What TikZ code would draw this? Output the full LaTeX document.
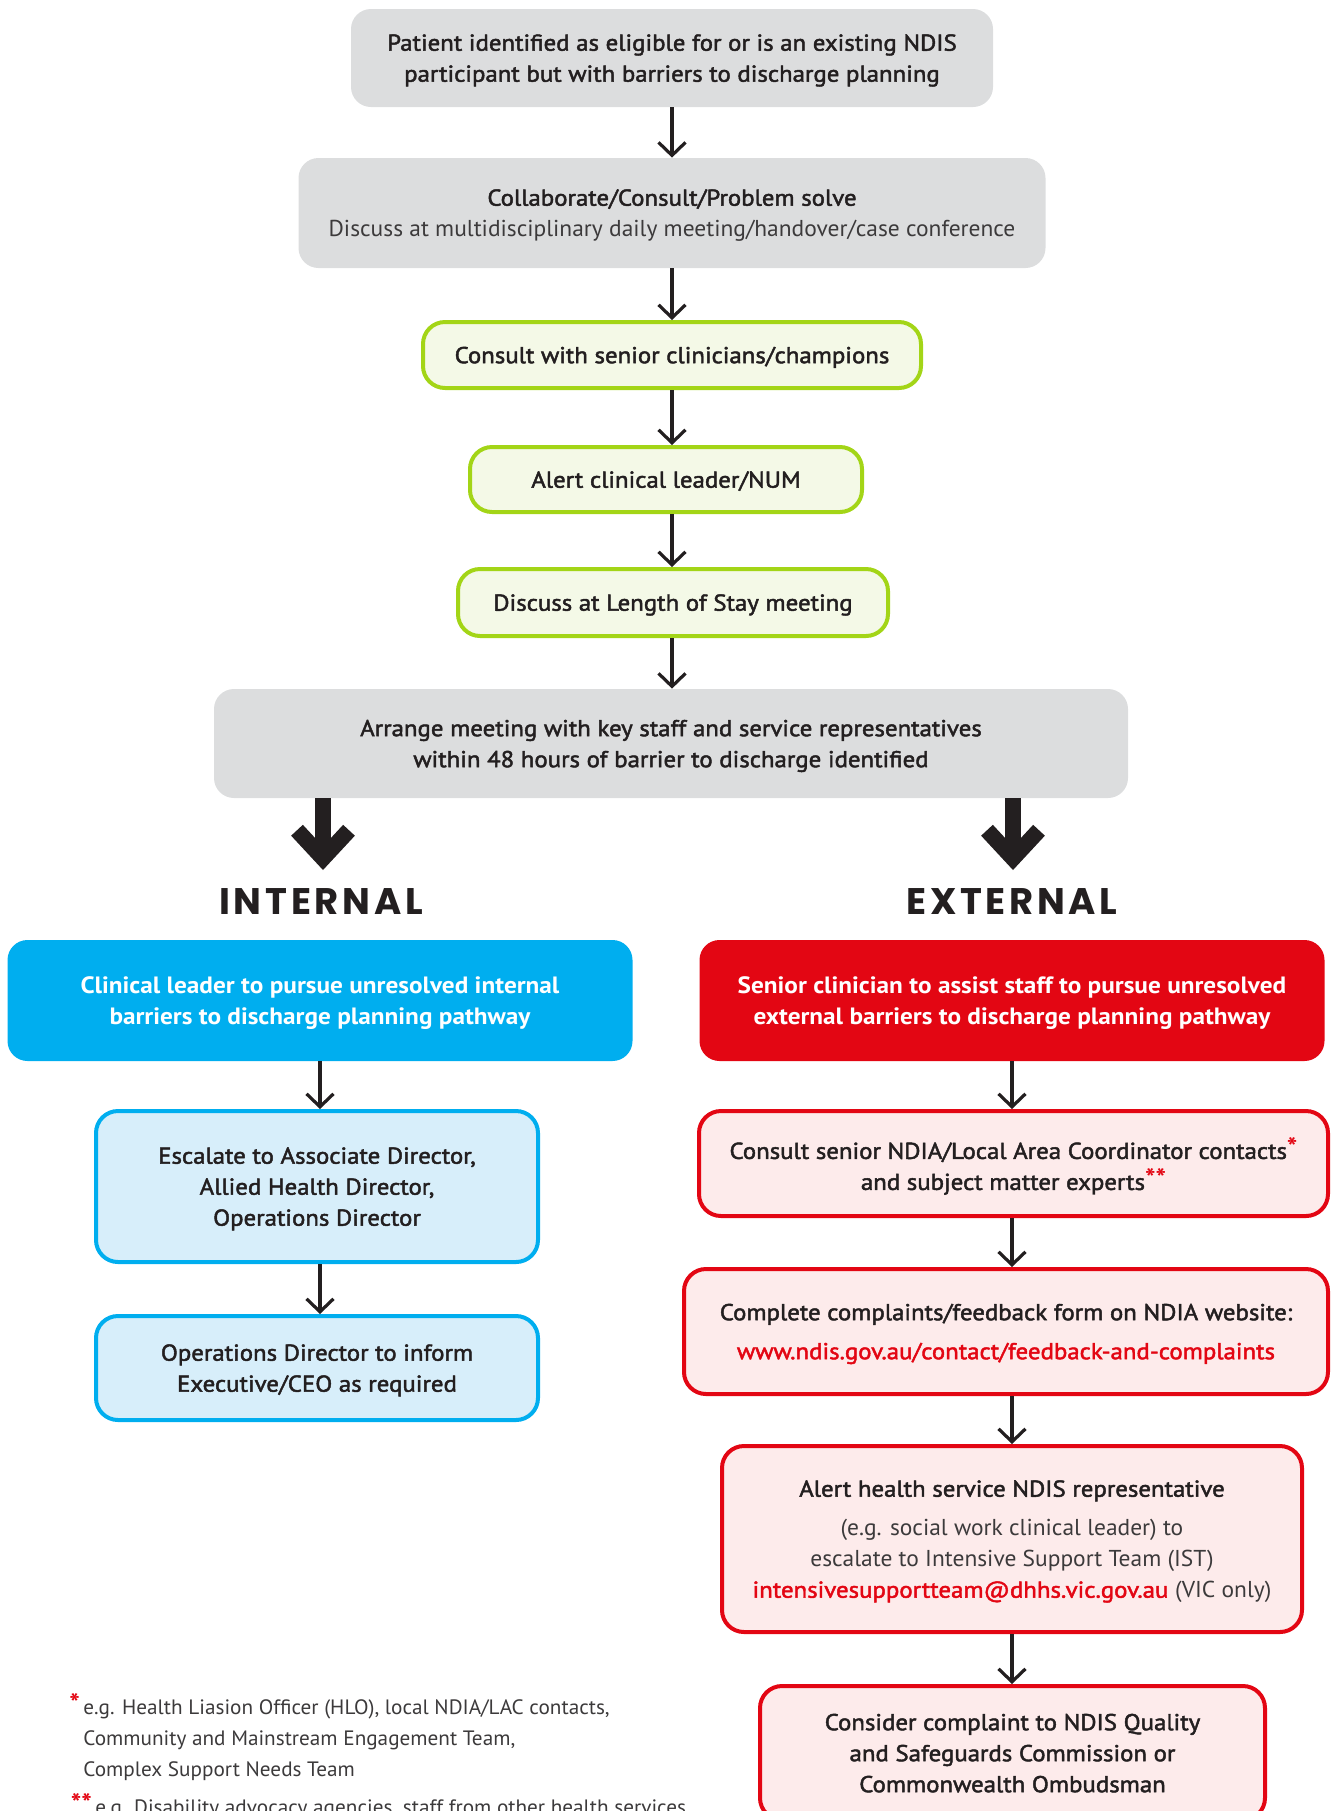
\documentclass[tikz,border=0pt]{standalone}
\usepackage{fontspec}
\usepackage{tikz}
\usetikzlibrary{arrows.meta}
\setmainfont{PT Sans}[FakeStretch=1.02]
\newfontfamily\medfont{PT Sans}[FakeBold=2, FakeStretch=1.08]
\newfontfamily\boldfont{PT Sans Bold}[FakeStretch=1.07]
\newfontfamily\headfont{Poppins}[LetterSpace=10]

\definecolor{boxgrey}{HTML}{DCDDDE}
\definecolor{ink}{HTML}{231F20}
\definecolor{softink}{HTML}{3C3A3B}
\definecolor{leafgreen}{HTML}{A3D517}
\definecolor{leafpale}{HTML}{F4F9E7}
\definecolor{skyblue}{HTML}{00AEEF}
\definecolor{skypale}{HTML}{D7EEFA}
\definecolor{alertred}{HTML}{E30613}
\definecolor{alertpale}{HTML}{FDEBEB}

\newcommand{\rstar}[1]{\textcolor{alertred}{\raisebox{0.12em}{\boldfont\fontsize{13}{13}\selectfont #1}}}

\tikzset{
  stepfont/.style={font=\fontsize{11.5}{15.5}\selectfont\medfont, text=ink, align=center, inner sep=0pt,
    text depth=-1pt},
  greybox/.style={stepfont, fill=boxgrey, rounded corners=10pt},
  greenbox/.style={stepfont, draw=leafgreen, line width=2pt, fill=leafpale, rounded corners=11pt},
  bluehead/.style={stepfont, fill=skyblue, rounded corners=10pt, text=white, font=\fontsize{11.8}{15.5}\selectfont\boldfont},
  redhead/.style={bluehead, fill=alertred},
  bluebox/.style={stepfont, draw=skyblue, line width=2pt, fill=skypale, rounded corners=11pt},
  redbox/.style={stepfont, draw=alertred, line width=2pt, fill=alertpale, rounded corners=11pt},
  sidehead/.style={font=\fontsize{18.5}{20}\selectfont\headfont\bfseries, text=ink, inner sep=0pt},
  footnote/.style={font=\fontsize{10.4}{15.5}\selectfont, text=softink, align=left, inner sep=0pt},
  flow/.style={draw=ink, line width=1.6pt, -{Straight Barb[length=6.5pt, width=13.5pt]}},
  bigflow/.style={draw=ink, line width=8pt, -{Straight Barb[length=14pt, width=26pt]}}
}

\begin{document}
\begin{tikzpicture}[x=0.5pt,y=-0.5pt]
	%%%%% START %%%%%
	\useasboundingbox (0,0) rectangle (1332,1811);

	\node[greybox, minimum width=321pt, minimum height=49pt] (patient) at (672,58)
		{Patient identified as eligible for or is an existing NDIS\\participant but with barriers to discharge planning};
	\node[greybox, minimum width=373.5pt, minimum height=55pt] (collab) at (672,213)
		{Collaborate/Consult/Problem solve\\{\normalfont\color{softink}Discuss at multidisciplinary daily meeting/handover/case conference}};
	\node[greenbox, minimum width=249pt, minimum height=33pt] (senior) at (672,355)
		{Consult with senior clinicians/champions};
	\node[greenbox, minimum width=196pt, minimum height=32.5pt] (alertnum) at (666,479.5)
		{Alert clinical leader/NUM};
	\node[greenbox, minimum width=215pt, minimum height=33.5pt] (stay) at (673,602.5)
		{Discuss at Length of Stay meeting};
	\node[greybox, minimum width=457pt, minimum height=54.5pt] (arrange) at (671,743.5)
		{Arrange meeting with key staff and service representatives\\within 48 hours of barrier to discharge identified};

	\draw[flow] (patient.south -| 672,0) -- (collab.north -| 672,0);
	\draw[flow] (collab.south -| 672,0) -- (senior.north -| 672,0);
	\draw[flow] (senior.south -| 672,0) -- (alertnum.north -| 672,0);
	\draw[flow] (alertnum.south -| 672,0) -- (stay.north -| 672,0);
	\draw[flow] (stay.south -| 672,0) -- (arrange.north -| 672,0);

	% the two pathways
	\coordinate (intip) at (323,870);
	\coordinate (extip) at (1013,870);
	\draw[bigflow] (arrange.south -| intip) -- (intip);
	\draw[bigflow] (arrange.south -| extip) -- (extip);
	\node[sidehead] (inlabel) at (321,901) {INTERNAL};
	\node[sidehead] (exlabel) at (1012,901) {EXTERNAL};

	\node[bluehead, minimum width=312.5pt, minimum height=60.5pt] (internal) at (320,1000.5)
		{Clinical leader to pursue unresolved internal\\barriers to discharge planning pathway};
	\node[bluebox, minimum width=221pt, minimum height=75.5pt] (escalate) at (317,1186.5)
		{Escalate to Associate Director,\\Allied Health Director,\\Operations Director};
	\node[bluebox, minimum width=221pt, minimum height=52pt] (inform) at (317,1368)
		{Operations Director to inform\\Executive/CEO as required};
	\draw[flow] (internal.south) -- (internal.south |- escalate.north);
	\draw[flow] (internal.south |- escalate.south) -- (internal.south |- inform.north);

	\node[redhead, minimum width=312.5pt, minimum height=60.5pt] (external) at (1012,1000.5)
		{Senior clinician to assist staff to pursue unresolved\\external barriers to discharge planning pathway};
	\node[redbox, minimum width=314.5pt, minimum height=52.5pt] (ndia) at (1013.5,1163.5)
		{Consult senior NDIA/Local Area Coordinator contacts\rstar{*}\\and subject matter experts\rstar{**}};
	\node[redbox, minimum width=322pt, minimum height=62.5pt] (complain) at (1006,1331.5)
		{Complete complaints/feedback form on NDIA website:\\[4pt]{\color{alertred}www.ndis.gov.au/contact/feedback-and-complaints}};
	\node[redbox, minimum width=290pt, minimum height=93pt] (ist) at (1012,1539)
		{Alert health service NDIS representative\\[4pt]
		{\normalfont\color{softink}(e.g. social work clinical leader) to}\\
		{\normalfont\color{softink}escalate to Intensive Support Team (IST)}\\
		{\color{alertred}intensivesupportteam@dhhs.vic.gov.au} {\normalfont\color{softink}(VIC only)}};
	\node[redbox, minimum width=252.5pt, minimum height=67pt] (ombud) at (1012.5,1753)
		{Consider complaint to NDIS Quality\\and Safeguards Commission or\\Commonwealth Ombudsman};
	\draw[flow] (external.south) -- (external.south |- ndia.north);
	\draw[flow] (external.south |- ndia.south) -- (external.south |- complain.north);
	\draw[flow] (external.south |- complain.south) -- (external.south |- ist.north);
	\draw[flow] (external.south |- ist.south) -- (external.south |- ombud.north);

	% footnotes
	\node[footnote, anchor=north west] (note1) at (83,1693)
		{\llap{\rstar{*}\,}e.g. Health Liasion Officer (HLO), local NDIA/LAC contacts,\\
		Community and Mainstream Engagement Team,\\Complex Support Needs Team};
	\node[footnote, anchor=north west] (note2) at (95,1793)
		{\llap{\rstar{**}\,}e.g. Disability advocacy agencies, staff from other health services};
	%%%%% END %%%%%
\end{tikzpicture}
\end{document}
